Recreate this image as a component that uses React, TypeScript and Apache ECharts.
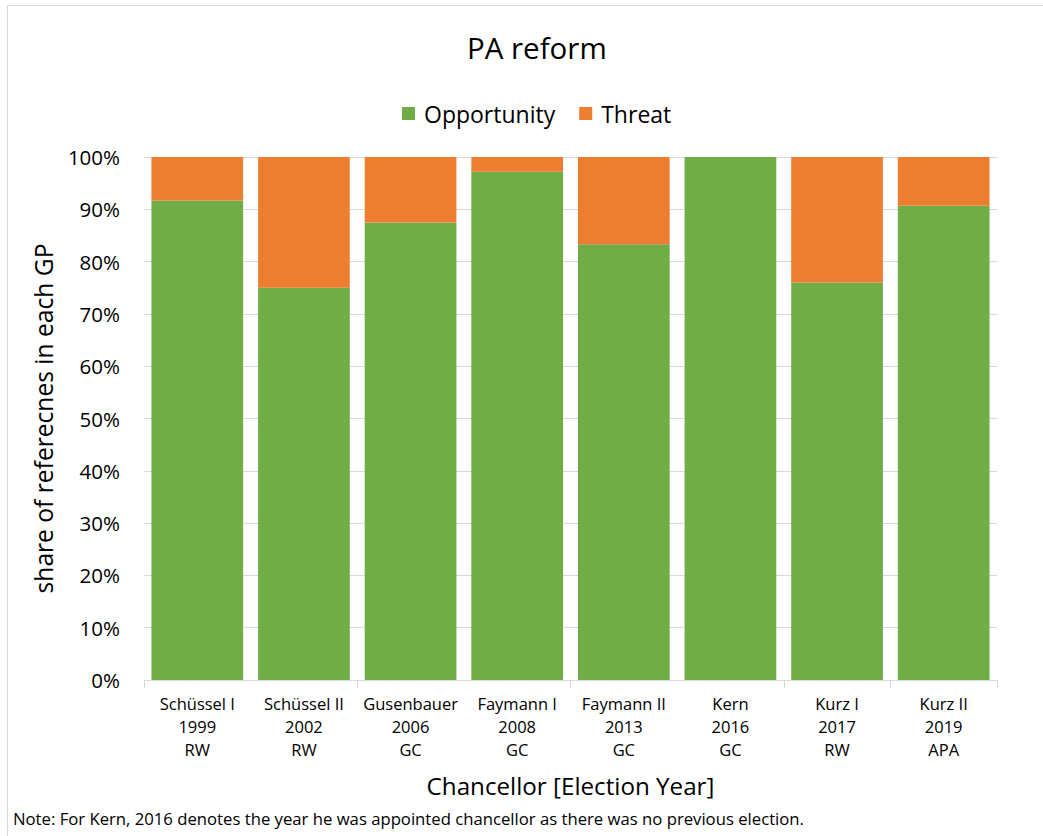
import React, { useEffect, useRef } from "react";
import * as echarts from "echarts";

const categories = [
  "Schüssel I\n1999\nRW",
  "Schüssel II\n2002\nRW",
  "Gusenbauer\n2006\nGC",
  "Faymann I\n2008\nGC",
  "Faymann II\n2013\nGC",
  "Kern\n2016\nGC",
  "Kurz I\n2017\nRW",
  "Kurz II\n2019\nAPA",
];
const opportunity = [91.7, 75, 87.5, 97.2, 83.3, 100, 76, 90.7];
const threat = [8.3, 25, 12.5, 2.8, 16.7, 0, 24, 9.3];
const titleText = "PA reform";
const yName = "share of referecnes in each GP";
const xName = "Chancellor [Election Year]";
const noteText =
  "Note: For Kern, 2016 denotes the year he was appointed chancellor as there was no previous election.";

const FONT = "'Open Sans', Lato, sans-serif";

export default function App() {
  const ref = useRef<HTMLDivElement>(null);
  useEffect(() => {
    document.body.style.margin = "0";
    if (!ref.current) return;
    const chart = echarts.init(ref.current, null, { renderer: "svg" });
    chart.setOption({
      animation: false,
      backgroundColor: "#ffffff",
      textStyle: { fontFamily: FONT, color: "#000" },
      title: {
        text: titleText,
        left: 462,
        top: 27,
        textStyle: { fontFamily: FONT, fontSize: 29.5, fontWeight: "normal", color: "#000" },
      },
      legend: {
        top: 97,
        left: 397,
        itemWidth: 13,
        itemHeight: 13,
        itemGap: 24,
        icon: "rect",
        textStyle: { fontFamily: FONT, fontSize: 23, color: "#000", padding: [0, 0, 0, 4] },
        data: ["Opportunity", "Threat"],
      },
      grid: { left: 144, right: 46, top: 157, bottom: 156 },
      xAxis: {
        type: "category",
        data: categories,
        name: xName,
        nameLocation: "middle",
        nameGap: 93,
        nameTextStyle: { fontFamily: FONT, fontSize: 24.2, color: "#000" },
        axisLine: { lineStyle: { color: "#d9d9d9", width: 1 } },
        axisTick: { show: true, interval: 1, length: 8, lineStyle: { color: "#d9d9d9" } },
        axisLabel: {
          interval: 0,
          fontFamily: FONT,
          fontSize: 16.5,
          color: "#000",
          lineHeight: 23,
          margin: 12,
        },
      },
      yAxis: {
        type: "value",
        min: 0,
        max: 100,
        interval: 10,
        name: yName,
        nameLocation: "middle",
        nameGap: 88,
        nameTextStyle: { fontFamily: FONT, fontSize: 24.6, color: "#000" },
        axisLine: { show: false },
        axisTick: { show: false },
        splitLine: { lineStyle: { color: "#d9d9d9", width: 1 } },
        axisLabel: {
          formatter: "{value}%",
          fontFamily: FONT,
          fontSize: 20.5,
          color: "#000",
          margin: 24,
        },
      },
      series: [
        {
          name: "Opportunity",
          type: "bar",
          stack: "total",
          data: opportunity,
          barCategoryGap: "14%",
          itemStyle: { color: "#70AD47" },
        },
        {
          name: "Threat",
          type: "bar",
          stack: "total",
          data: threat,
          itemStyle: { color: "#ED7D31" },
        },
      ],
      graphic: [
        {
          type: "rect",
          shape: { x: 7.5, y: 5.5, width: 1050, height: 850 },
          style: { fill: "none", stroke: "#d9d9d9", lineWidth: 1 },
          silent: true,
        },
        {
          type: "text",
          left: 13,
          top: 810,
          style: { text: noteText, fontFamily: FONT, fontSize: 16.7, fill: "#000" },
        },
      ],
    });
    return () => chart.dispose();
  }, []);
  return <div ref={ref} style={{ width: 1043, height: 836 }} />;
}
